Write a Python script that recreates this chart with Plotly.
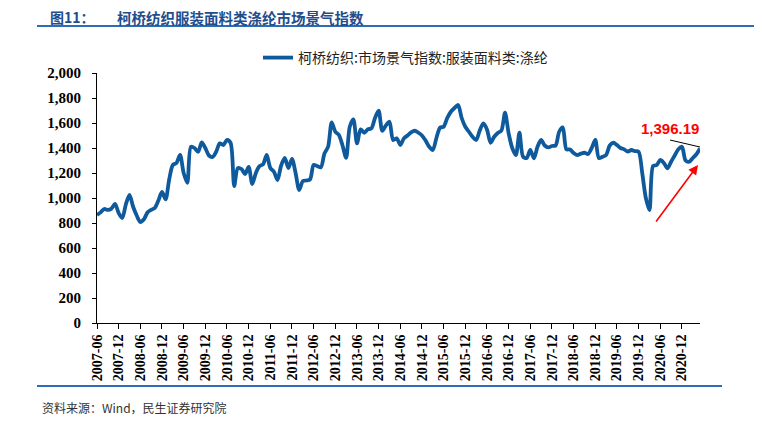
import plotly.graph_objects as go

# ---------------- data ----------------
start_year, start_month, n_months = 2007, 6, 168
months = []
y, m = start_year, start_month
for _ in range(n_months):
    months.append(f"{y}-{m:02d}")
    m += 1
    if m > 12:
        m = 1
        y += 1

index_values = [
    864, 885, 912, 905, 915, 952, 880, 840, 950, 1024,
    930, 860, 808, 830, 885, 905, 920, 980, 1048, 990,
    1150, 1264, 1280, 1344, 1200, 1122, 1410, 1400, 1370, 1445,
    1400, 1340, 1328, 1370, 1437, 1424, 1464, 1440, 1096, 1240,
    1232, 1192, 1248, 1112, 1200, 1255, 1270, 1344, 1240, 1210,
    1144, 1260, 1320, 1240, 1312, 1200, 1064, 1135, 1140, 1149,
    1264, 1255, 1245, 1357, 1410, 1605, 1530, 1504, 1420, 1322,
    1570, 1629, 1437, 1549, 1522, 1549, 1557, 1640, 1698, 1538,
    1580, 1610, 1464, 1477, 1424, 1477, 1500, 1525, 1538, 1522,
    1500, 1460, 1410, 1384, 1480, 1562, 1570, 1640, 1690, 1720,
    1744, 1640, 1570, 1530, 1490, 1464, 1540, 1597, 1549, 1442,
    1490, 1520, 1540, 1682, 1517, 1400, 1344, 1522, 1330, 1320,
    1384, 1317, 1410, 1464, 1420, 1405, 1416, 1420, 1530, 1565,
    1389, 1389, 1360, 1344, 1355, 1362, 1352, 1400, 1464, 1320,
    1330, 1344, 1420, 1442, 1424, 1400, 1389, 1372, 1384, 1375,
    1370, 1200, 1000, 904, 1256, 1264, 1304, 1280, 1237, 1290,
    1340, 1390, 1410, 1300, 1290, 1320, 1350, 1396.19,
]

tick_labels = [
    "2007-06", "2007-12", "2008-06", "2008-12", "2009-06", "2009-12",
    "2010-06", "2010-12", "2011-06", "2011-12", "2012-06", "2012-12",
    "2013-06", "2013-12", "2014-06", "2014-12", "2015-06", "2015-12",
    "2016-06", "2016-12", "2017-06", "2017-12", "2018-06", "2018-12",
    "2019-06", "2019-12", "2020-06", "2020-12",
]
y_ticks = [0, 200, 400, 600, 800, 1000, 1200, 1400, 1600, 1800, 2000]

series_name = "柯桥纺织:市场景气指数:服装面料类:涤纶"
title_num = "图11："
title_text = "柯桥纺织服装面料类涤纶市场景气指数"
source_text = "资料来源：Wind，民生证券研究院"
last_label = f"{index_values[-1]:,.2f}"

# ---------------- layout helpers ----------------
OFF = 8  # page body margin in the browser
W, H = 762 - OFF, 427 - OFF
L, R, T, B = 97 - OFF, 700 - OFF, 73 - OFF, 323 - OFF


def px(xp):
    return (xp - OFF - L) / (R - L)


def py(yp):
    return (B - (yp - OFF)) / (B - T)


CJK = "Noto Sans CJK SC"
SERIF = "Liberation Serif, Times New Roman, serif"
BLUE_LINE = "#0f5a9c"
TITLE_BLUE = "#1f4e8d"

fig = go.Figure()
fig.add_trace(go.Scatter(
    x=months, y=index_values, mode="lines", name=series_name,
    line=dict(color=BLUE_LINE, width=3.8, shape="spline", smoothing=0.8),
    cliponaxis=False,
))

fig.update_layout(
    width=W, height=H,
    margin=dict(l=L, r=W - R, t=T, b=H - B, pad=0),
    paper_bgcolor="white", plot_bgcolor="white",
    showlegend=True,
    legend=dict(
        orientation="h", x=px(258), y=py(58), xanchor="left", yanchor="middle",
        font=dict(family=CJK, size=14, color="#222"),
        bgcolor="rgba(0,0,0,0)", itemwidth=30,
    ),
    xaxis=dict(
        type="category", range=[0, len(months) - 1],
        tickmode="array", tickvals=tick_labels, ticktext=tick_labels,
        tickangle=-90, ticks="outside", ticklen=5, tickcolor="black",
        showline=True, linecolor="black", linewidth=1,
        showgrid=False, zeroline=False,
        tickfont=dict(family=SERIF, size=14, color="black", weight="bold"),
    ),
    yaxis=dict(
        range=[0, 2000], tickmode="array", tickvals=y_ticks,
        tickformat=",d", ticks="outside", ticklen=4, tickcolor="black",
        showline=True, linecolor="black", linewidth=1,
        showgrid=False, zeroline=False,
        tickfont=dict(family=SERIF, size=15, color="black", weight="bold"),
        ticklabelstandoff=8,
    ),
)

annotations = [
    dict(text=title_num, x=px(48), y=py(17), xanchor="left", yanchor="middle",
         font=dict(family=CJK, size=14, color=TITLE_BLUE, weight="bold")),
    dict(text=title_text, x=px(115), y=py(17), xanchor="left", yanchor="middle",
         font=dict(family=CJK, size=14.5, color=TITLE_BLUE, weight="bold")),
    dict(text=source_text, x=px(40), y=py(407), xanchor="left", yanchor="middle",
         font=dict(family=CJK, size=12, color="#333")),
    dict(text=last_label, x=px(670), y=py(128), xanchor="center", yanchor="middle",
         font=dict(family="Liberation Sans", size=15, color="#ff0000", weight="bold")),
    dict(text="", x=px(698), y=py(165), ax=-43, ay=58, showarrow=True,
         arrowhead=2, arrowsize=1.2, arrowwidth=1.6, arrowcolor="#ff0000"),
]
for a in annotations:
    a.setdefault("xref", "paper")
    a.setdefault("yref", "paper")
    a.setdefault("showarrow", False)
fig.update_layout(annotations=annotations)

shapes = [
    dict(type="line", x0=px(37), x1=px(762), y0=py(26), y1=py(26),
         line=dict(color="#2e6db4", width=2)),
    dict(type="line", x0=px(37), x1=px(722), y0=py(386), y1=py(386),
         line=dict(color="#2e6db4", width=2)),
    dict(type="line", x0=px(670), x1=px(700), y0=py(140), y1=py(147),
         line=dict(color="black", width=1)),
]
for s in shapes:
    s["xref"] = "paper"
    s["yref"] = "paper"
fig.update_layout(shapes=shapes)

fig.write_html("out.html")
